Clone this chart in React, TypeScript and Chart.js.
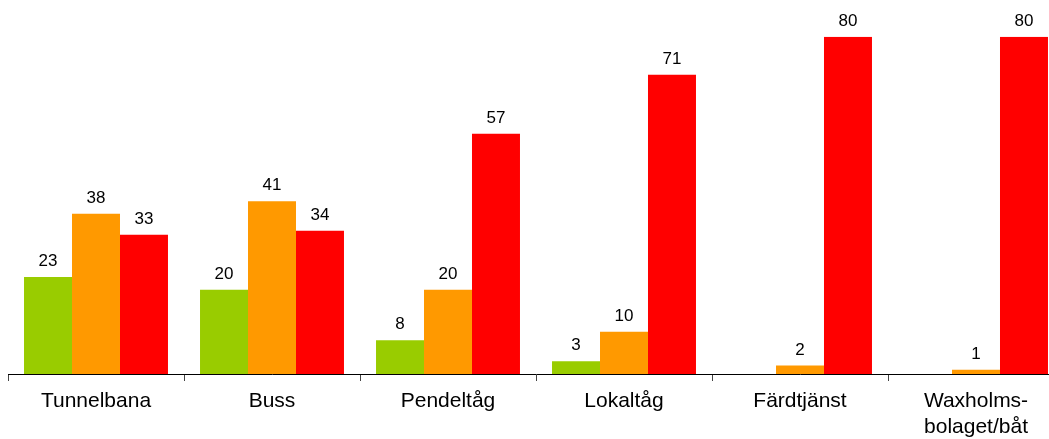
import React, { useEffect, useRef } from "react";
import { Chart, registerables } from "chart.js";

Chart.register(...registerables);

const categories: (string | string[])[] = [
  "Tunnelbana",
  "Buss",
  "Pendeltåg",
  "Lokaltåg",
  "Färdtjänst",
  ["Waxholms-", "bolaget/båt"],
];
const greenValues: (number | null)[] = [23, 20, 8, 3, null, null];
const orangeValues: (number | null)[] = [38, 41, 20, 10, 2, 1];
const redValues: (number | null)[] = [33, 34, 57, 71, 80, 80];

const FONT = "'Liberation Sans', Arial, sans-serif";

if (typeof document !== "undefined") {
  document.body.style.margin = "0";
  document.documentElement.style.overflow = "hidden";
}

const valueLabels = {
  id: "valueLabels",
  afterDatasetsDraw(chart: any) {
    const ctx = chart.ctx;
    ctx.save();
    ctx.font = `17px ${FONT}`;
    ctx.fillStyle = "#000";
    ctx.textAlign = "center";
    ctx.textBaseline = "alphabetic";
    chart.data.datasets.forEach((ds: any, i: number) => {
      const meta = chart.getDatasetMeta(i);
      meta.data.forEach((el: any, j: number) => {
        const v = ds.data[j];
        if (v === null || v === undefined) return;
        ctx.fillText(String(v), el.x, el.y - 11);
      });
    });
    ctx.restore();
  },
};

export default function App() {
  const ref = useRef<HTMLCanvasElement | null>(null);
  useEffect(() => {
    if (!ref.current) return;
    const chart = new Chart(ref.current, {
      type: "bar",
      data: {
        labels: categories,
        datasets: [
          { data: greenValues, backgroundColor: "#99CC00", categoryPercentage: 0.818, barPercentage: 1 },
          { data: orangeValues, backgroundColor: "#FF9900", categoryPercentage: 0.818, barPercentage: 1 },
          { data: redValues, backgroundColor: "#FF0000", categoryPercentage: 0.818, barPercentage: 1 },
        ],
      },
      options: {
        responsive: false,
        animation: false,
        layout: { padding: { top: 28.7, left: 0, right: 0, bottom: 0 } },
        plugins: { legend: { display: false }, tooltip: { enabled: false } },
        scales: {
          y: { display: false, min: 0, max: 80 },
          x: {
            grid: {
              display: true,
              drawOnChartArea: false,
              drawTicks: true,
              tickLength: 7,
              color: "#444",
              offset: true,
            },
            border: { display: true, color: "#000", width: 1 },
            ticks: {
              color: "#000",
              font: { family: FONT, size: 21, lineHeight: 1.26 },
              padding: 7,
              maxRotation: 0,
              autoSkip: false,
            },
            afterFit(scale: any) {
              scale.height = 65;
            },
          },
        },
      },
      plugins: [valueLabels],
    });
    return () => chart.destroy();
  }, []);
  return (
    <div style={{ position: "relative", width: 1049, height: 439, overflow: "hidden", background: "#fff" }}>
      <canvas
        ref={ref}
        width={1056}
        height={431}
        style={{ position: "absolute", left: 8, top: 8, display: "block" }}
      />
    </div>
  );
}
